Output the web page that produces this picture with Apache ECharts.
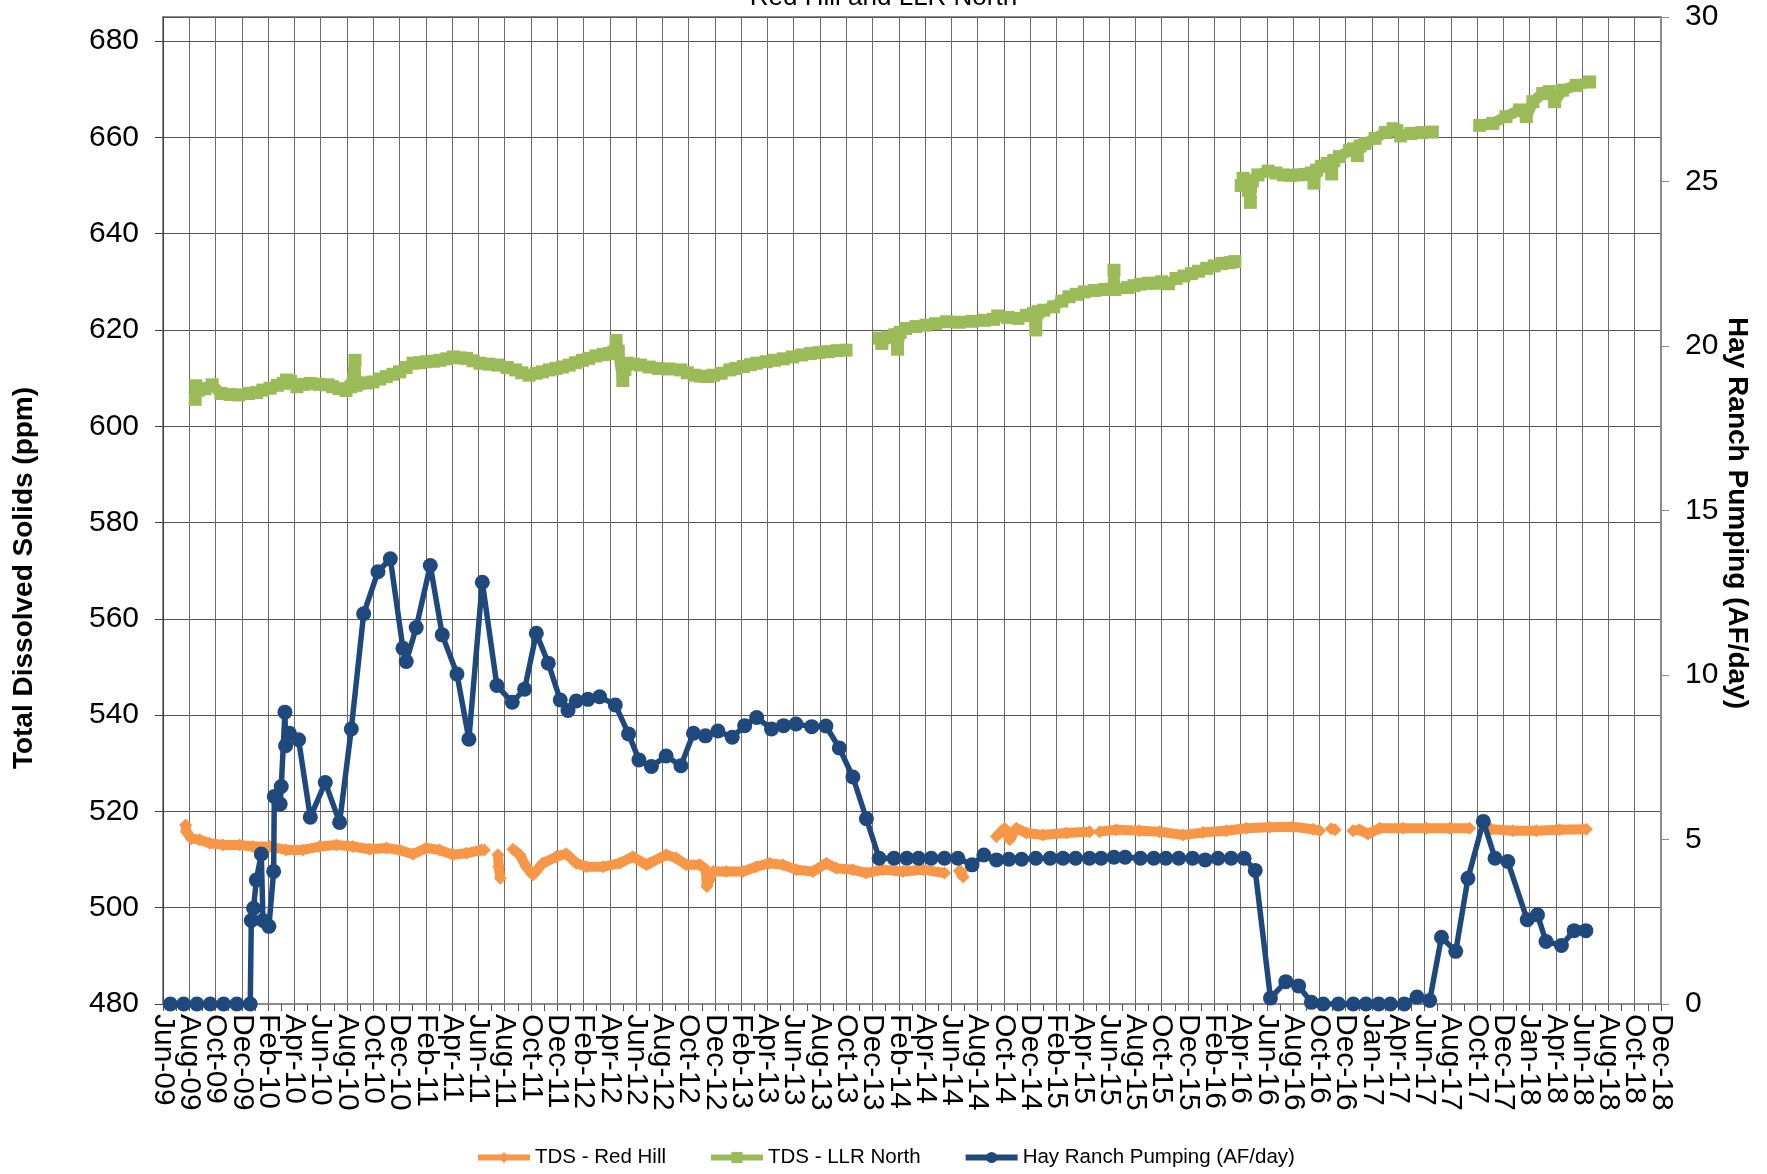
<!DOCTYPE html>
<html>
<head>
<meta charset="utf-8">
<script src="https://cdn.jsdelivr.net/npm/echarts@6/dist/echarts.min.js"></script>
<style>
html,body{margin:0;padding:0;background:#fff;}
#chart{width:1767px;height:1174px;}
</style>
</head>
<body>
<div id="chart"></div>
<script>
// x values are months since Jun-2009 (Jun-09 = 0)
const xTickLabels = ['Jun-09','Aug-09','Oct-09','Dec-09','Feb-10','Apr-10','Jun-10','Aug-10','Oct-10','Dec-10','Feb-11','Apr-11','Jun-11','Aug-11','Oct-11','Dec-11','Feb-12','Apr-12','Jun-12','Aug-12','Oct-12','Dec-12','Feb-13','Apr-13','Jun-13','Aug-13','Oct-13','Dec-13','Feb-14','Apr-14','Jun-14','Aug-14','Oct-14','Dec-14','Feb-15','Apr-15','Jun-15','Aug-15','Oct-15','Dec-15','Feb-16','Apr-16','Jun-16','Aug-16','Oct-16','Dec-16','Jan-17','Apr-17','Jun-17','Aug-17','Oct-17','Dec-17','Jan-18','Apr-18','Jun-18','Aug-18','Oct-18','Dec-18'];

// TDS - Red Hill (ppm); null = gap
const redHill = [
[1.72,517.2],[1.77,515.8],[2.15,514.4],[2.79,514.1],[3.55,513.4],[4.56,513.05],[5.83,513.05],[6.84,512.7],[8.11,512.7],[9.38,512.0],[10.65,512.0],[11.92,512.7],[13.19,513.05],[14.45,512.7],[15.72,512.15],[16.99,512.4],[18.0,512.0],[19.02,511.1],[20.04,512.4],[21.05,512.0],[22.06,511.0],[23.08,511.3],[24.22,512.0],[24.45,512.0],
null,
[25.49,511.0],[25.55,508.5],[25.67,506.1],
null,
[26.63,512.15],[27.14,511.0],[27.65,508.5],[28.15,506.8],[28.91,509.25],[29.93,510.6],[30.69,511.2],[31.45,509.25],[32.21,508.5],[33.48,508.5],[34.75,509.25],[35.76,510.6],[36.78,508.9],[37.03,509.25],[38.3,511.0],[39.06,510.3],[39.82,508.9],[40.84,508.9],[41.3,508.0],[41.39,504.4],[41.85,507.5],[42.87,507.5],[44.13,507.5],[45.15,508.5],[46.16,509.25],[47.18,508.9],[48.2,507.9],[49.46,507.5],[50.48,509.25],[51.24,508.2],[52.5,507.9],[53.52,507.2],[54.79,507.9],[56.31,507.5],[57.83,507.9],[59.48,507.2],
null,
[60.6,507.6],[60.75,507.5],[60.9,506.4],
null,
[63.42,514.8],[64.05,516.5],[64.43,514.1],[64.94,516.5],[65.7,515.5],[66.96,515.1],[68.74,515.5],[70.52,515.8],
null,
[71.28,515.8],[72.55,516.2],[74.32,516.0],[75.84,515.8],[77.62,515.1],[79.14,515.6],[80.92,516.0],[82.44,516.5],[84.21,516.7],[85.99,516.8],[87.51,516.3],[88.02,516.0],
null,
[88.9,516.4],[89.2,516.2],
null,
[90.56,516.0],[91.06,516.2],[91.7,515.3],[92.59,516.5],[94.36,516.5],[96.14,516.5],[97.91,516.5],[99.43,516.5],
null,
[101.08,516.3],[102.73,516.0],[104.51,516.0],[106.28,516.2],[108.32,516.3]
];

// TDS - LLR North (ppm); null = gap
const llrNorth = [
[2.45,605.6],[2.5,608.4],[2.7,607.5],[3.2,607.8],[3.74,608.6],[4.41,606.8],[5.1,606.6],[5.78,606.5],[6.5,606.8],[7.13,607.0],[7.6,607.5],[8.15,607.9],[8.7,608.5],[9.17,608.9],[9.4,609.6],[9.7,609.3],[10.19,608.2],[10.7,608.7],[11.21,608.9],[11.9,608.7],[12.57,608.6],
null,
[12.91,608.2],[13.4,607.8],[13.93,607.4],[14.3,608.2],[14.61,613.7],[14.7,608.5],[14.95,608.9],[15.5,609.0],[15.97,609.2],[16.5,609.8],[16.99,610.3],[17.5,610.8],[18.0,611.3],[18.5,612.2],[19.03,613.1],[19.5,613.2],[20.05,613.4],[20.6,613.5],[21.07,613.7],[21.6,614.0],[22.08,614.4],[22.6,614.2],[23.1,614.1],[23.6,613.6],[24.12,613.1],[24.8,612.9],[25.48,612.7],[26.2,612.2],[26.84,611.7],[27.3,611.1],[27.86,610.6],[28.4,611.0],[28.88,611.3],[29.4,611.7],[29.9,612.0],[30.4,612.3],[30.91,612.7],[31.4,613.2],[31.93,613.7],[32.4,614.1],[32.95,614.6],[33.5,614.9],[33.97,615.1],[34.3,615.4],[34.48,617.8],[34.65,615.6],[34.99,609.5],[35.15,611.8],[35.33,613.1],[35.8,612.9],[36.35,612.7],[37.0,612.3],[37.71,612.0],[38.5,611.9],[39.41,611.7],[39.9,611.1],[40.43,610.6],[40.9,610.4],[41.45,610.3],[41.9,610.6],[42.47,611.0],[43.15,611.7],[43.6,612.0],[44.17,612.4],[44.7,612.8],[45.18,613.1],[45.9,613.4],[46.54,613.7],[47.2,614.0],[47.91,614.4],[48.6,614.8],[49.26,615.1],[49.9,615.3],[50.62,615.5],[51.3,615.7],[51.98,615.8],
null,
[54.5,618.3],[54.7,617.2],[55.2,618.5],[55.7,619.0],[55.9,616.0],[56.1,619.5],[56.52,620.3],[57.3,620.7],[58.07,621.0],[58.8,621.3],[59.63,621.7],[60.6,621.6],[61.57,621.8],[62.5,622.0],[63.2,622.2],[63.52,622.9],[64.3,622.6],[65.07,622.4],[65.7,623.0],[66.23,623.4],[66.42,620.0],[66.6,623.8],[67.01,624.1],[67.78,624.8],[68.4,626.0],[68.95,626.9],[69.5,627.4],[70.11,627.9],[70.9,628.2],[71.67,628.4],[72.3,628.5],[72.37,632.4],[72.45,628.4],[73.42,628.8],[73.9,629.2],[74.38,629.5],[75.0,629.7],[75.55,629.7],[76.0,630.0],[76.52,629.6],[77.1,630.7],[77.7,631.2],[78.26,631.7],[78.8,632.2],[79.43,632.8],[80.0,633.3],[80.59,633.8],[81.2,634.0],[81.57,634.2],
null,
[82.05,650.0],[82.2,651.5],[82.6,649.0],[82.75,646.5],[82.9,651.0],[83.32,652.2],[84.1,653.0],[84.7,652.6],[85.26,652.2],[85.8,652.1],[86.42,652.2],[86.9,652.3],[87.39,652.6],[87.59,650.5],[87.8,653.2],[88.17,654.0],[88.6,654.6],[88.94,652.4],[89.1,655.2],[89.53,656.0],[90.3,657.3],[90.6,657.6],[90.89,656.2],[91.1,658.2],[91.47,658.7],[92.24,659.8],[93.02,661.0],[93.61,661.8],[93.9,661.4],[94.19,660.3],[94.96,660.8],[95.8,661.0],[96.6,661.1],
null,
[100.2,662.5],[101.2,662.9],[102.2,664.3],[103.24,665.7],[103.75,664.3],[104.25,667.4],[105.0,669.1],[105.5,669.5],[105.9,667.4],[106.5,669.8],[107.55,670.8],[108.57,671.5]
];

// Hay Ranch Pumping (AF/day)
const hayRanch = [
[0.56,0],[1.57,0],[2.58,0],[3.6,0],[4.61,0],[5.62,0],[6.64,0],
[6.72,2.54],[6.89,2.91],[7.10,3.77],[7.48,4.56],[7.61,2.54],[8.06,2.36],[8.42,4.03],[8.47,6.31],[8.92,6.08],[9.0,6.61],[9.28,8.87],[9.33,7.85],[9.63,8.23],[10.32,8.03],
[11.21,5.68],[12.35,6.73],[13.44,5.52],[14.33,8.36],[15.27,11.86],[16.36,13.14],[17.30,13.53],[18.26,10.81],[18.51,10.41],[19.27,11.44],[20.34,13.33],[21.25,11.22],[22.37,10.03],[23.28,8.05],[24.30,12.82],[25.41,9.68],[26.58,9.17],[27.52,9.57],[28.41,11.27],[29.32,10.36],[30.23,9.24],[30.82,8.92],[31.45,9.21],[32.34,9.26],[33.23,9.34],[34.42,9.09],[35.43,8.21],[36.22,7.42],[37.17,7.22],[38.29,7.54],[39.41,7.24],[40.37,8.23],[41.28,8.15],[42.23,8.3],[43.32,8.11],[44.27,8.46],[45.18,8.71],[46.31,8.36],[47.22,8.46],[48.17,8.51],[49.37,8.43],[50.45,8.45],[51.47,7.78],[52.5,6.9],[53.53,5.63],[54.5,4.43],[55.63,4.43],[56.6,4.43],[57.5,4.43],[58.46,4.43],[59.47,4.43],[60.49,4.43],[61.57,4.23],[62.47,4.53],[63.43,4.38],[64.37,4.4],[65.34,4.4],[66.42,4.43],[67.51,4.43],[68.49,4.43],[69.45,4.43],[70.5,4.43],[71.39,4.43],[72.37,4.46],[73.22,4.46],[74.38,4.43],[75.4,4.43],[76.32,4.43],[77.3,4.43],[78.35,4.43],[79.31,4.38],[80.29,4.43],[81.29,4.43],[82.27,4.43],[83.12,4.06],[84.28,0.18],[85.45,0.68],[86.42,0.55],[87.39,0.05],[88.29,0],[89.45,0],[90.58,0],[91.55,0],[92.52,0],[93.41,0],[94.46,0],[95.43,0.21],[96.4,0.11],[97.29,2.03],[98.38,1.6],[99.31,3.82],[100.48,5.55],[101.37,4.43],[102.34,4.33],[103.82,2.56],[104.6,2.71],[105.25,1.9],[106.42,1.78],[107.39,2.23],[108.28,2.23]
];

function withGaps(arr) {
  const out = [];
  for (let i = 0; i < arr.length; i++) {
    const p = arr[i];
    if (p === null) { out.push([arr[i - 1][0], '-']); }
    else { out.push(p); }
  }
  return out;
}

const FONT = 'Liberation Sans, Arial, sans-serif';
const X_MAX = (xTickLabels.length - 1) * 2;
const xLabelBase = {rotate: -90, fontSize: 30, color: '#000', margin: 10, fontFamily: FONT, hideOverlap: false};

const chart = echarts.init(document.getElementById('chart'), null, {renderer: 'canvas'});
chart.setOption({
  animation: false,
  backgroundColor: '#fff',
  textStyle: {fontFamily: FONT},
  title: {
    text: 'Red Hill and LLR North', left: 'center', top: -15, padding: 0,
    textStyle: {fontSize: 26, fontWeight: 'normal', color: '#000', fontFamily: FONT}
  },
  grid: {left: 163, right: 106, top: 17, bottom: 170, show: true, borderColor: '#8c8c8c', borderWidth: 2},
  xAxis: [
    {
      type: 'value', min: 0, max: X_MAX, interval: 2, position: 'bottom',
      axisLine: {onZero: false, lineStyle: {color: '#8c8c8c', width: 2}},
      axisTick: {show: true, length: 7, lineStyle: {color: '#555'}},
      minorTick: {show: true, splitNumber: 2, length: 7, lineStyle: {color: '#555'}},
      splitLine: {show: true, lineStyle: {color: '#6a6a6a', width: 1}},
      axisLabel: Object.assign({}, xLabelBase, {
        showMinLabel: false, showMaxLabel: false,
        formatter: function (v) { return xTickLabels[Math.round(v / 2)] || ''; }
      })
    },
    {
      // carries only the first and last tick labels so they are not dropped
      type: 'value', min: 0, max: X_MAX, interval: 2, position: 'bottom',
      axisLine: {show: false, onZero: false}, axisTick: {show: false}, minorTick: {show: false},
      splitLine: {show: false},
      axisLabel: Object.assign({}, xLabelBase, {
        showMinLabel: true, showMaxLabel: true,
        formatter: function (v) {
          const i = Math.round(v / 2);
          return (i === 0 || i === xTickLabels.length - 1) ? xTickLabels[i] : '';
        }
      })
    }
  ],
  yAxis: [
    {
      type: 'value', min: 480, max: 685, interval: 20, position: 'left',
      axisLine: {show: true, onZero: false, lineStyle: {color: '#404040', width: 1}},
      axisTick: {show: true, length: 8, lineStyle: {color: '#404040'}},
      splitLine: {show: true, lineStyle: {color: '#555', width: 1}},
      axisLabel: {fontSize: 30, color: '#000', margin: 24, showMaxLabel: false, fontFamily: FONT}
    },
    {
      type: 'value', min: 0, max: 30, interval: 5, position: 'right',
      axisLine: {show: true, onZero: false, lineStyle: {color: '#8c8c8c', width: 2}},
      axisTick: {show: true, length: 8, lineStyle: {color: '#8c8c8c'}},
      splitLine: {show: false},
      axisLabel: {fontSize: 30, color: '#000', margin: 24, fontFamily: FONT}
    }
  ],
  legend: {
    top: 1142, left: 470, itemWidth: 52, itemHeight: 14, itemGap: 42,
    lineStyle: {width: 6},
    textStyle: {fontSize: 20.5, color: '#000', fontFamily: FONT},
    data: ['TDS - Red Hill', 'TDS - LLR North', 'Hay Ranch Pumping (AF/day)']
  },
  graphic: [
    {type: 'text', x: 24, y: 578, rotation: Math.PI / 2, z: 10,
     style: {text: 'Total Dissolved Solids (ppm)', textAlign: 'center', textVerticalAlign: 'middle', font: 'bold 28px ' + FONT, fill: '#000'}},
    {type: 'text', x: 1737, y: 513, rotation: -Math.PI / 2, z: 10,
     style: {text: 'Hay Ranch Pumping (AF/day)', textAlign: 'center', textVerticalAlign: 'middle', font: 'bold 28px ' + FONT, fill: '#000'}}
  ],
  series: [
    {
      name: 'TDS - Red Hill', type: 'line', xAxisIndex: 0, yAxisIndex: 0, data: withGaps(redHill),
      symbol: 'diamond', symbolSize: 13, showSymbol: true, connectNulls: false,
      lineStyle: {color: '#F79646', width: 10}, itemStyle: {color: '#F79646'}, z: 2
    },
    {
      name: 'TDS - LLR North', type: 'line', xAxisIndex: 0, yAxisIndex: 0, data: withGaps(llrNorth),
      symbol: 'rect', symbolSize: 13, showSymbol: true, connectNulls: false,
      lineStyle: {color: '#9BBB59', width: 11}, itemStyle: {color: '#9BBB59'}, z: 3
    },
    {
      name: 'Hay Ranch Pumping (AF/day)', type: 'line', xAxisIndex: 0, yAxisIndex: 1, data: hayRanch,
      symbol: 'circle', symbolSize: 15, showSymbol: true,
      lineStyle: {color: '#1F497D', width: 5.5}, itemStyle: {color: '#1F497D'}, z: 4
    }
  ]
});
</script>
</body>
</html>
